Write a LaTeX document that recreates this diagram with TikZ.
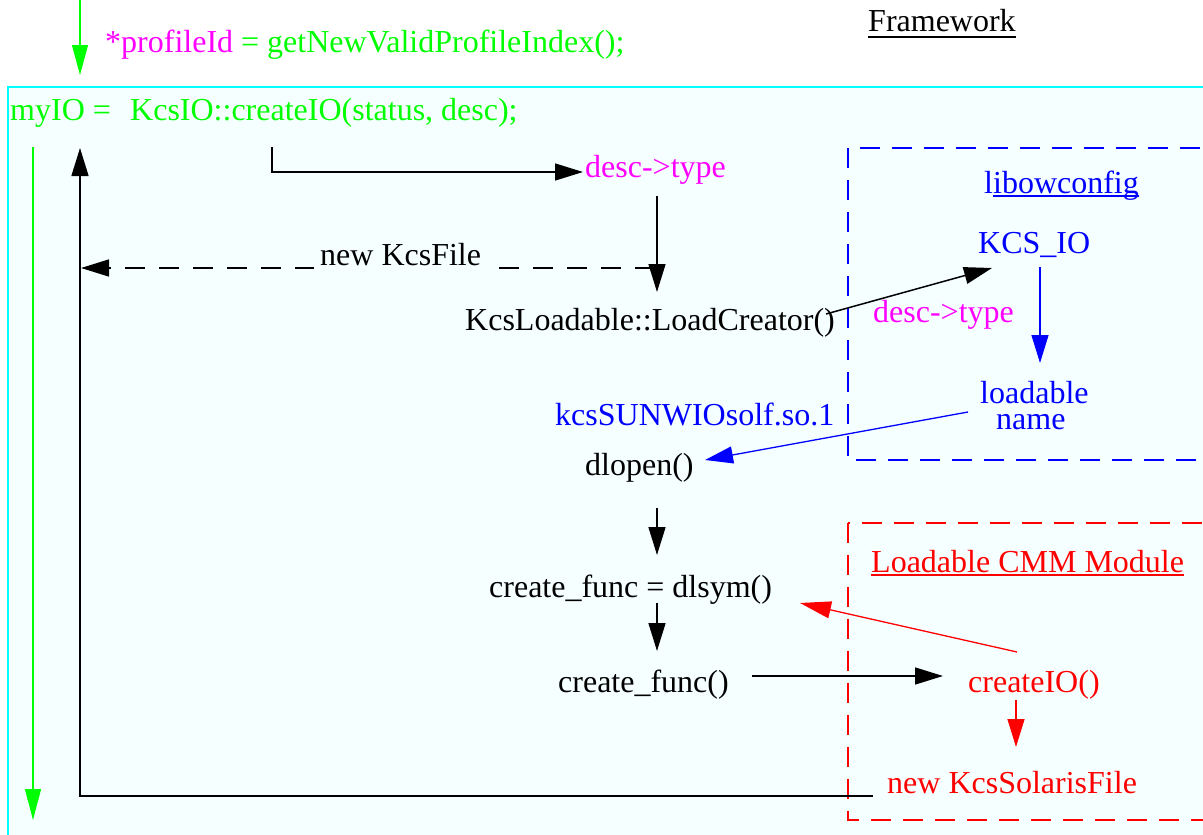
\documentclass[tikz,border=0pt]{standalone}
\usepackage{fontspec}
\setmainfont{Liberation Serif}
\usetikzlibrary{arrows.meta}
\definecolor{pgreen}{RGB}{0,255,0}
\definecolor{pmag}{RGB}{255,0,255}
\definecolor{pblue}{RGB}{0,0,255}
\definecolor{pred}{RGB}{255,0,0}
\definecolor{pcyan}{RGB}{0,255,255}
\definecolor{paper}{RGB}{246,255,255}
\begin{document}
\begin{tikzpicture}[x=1pt,y=-1pt,
  every node/.style={inner sep=0pt, anchor=base west, font=\fontsize{32}{38}\selectfont},
  flow/.style={line width=1.5pt, -{Triangle[length=28pt,width=17pt]}},
  boxdash/.style={line width=1.3pt, dash pattern=on 20pt off 12pt},
  uline/.style={line width=1.3pt}]

\useasboundingbox (0,0) rectangle (1203,835);
\clip (0,0) rectangle (1203,835);
\fill[white] (0,0) rectangle (1203,835);

% framework area
\draw[pcyan, fill=paper, line width=1.2pt] (8,87) rectangle (1230,860);

% library boxes
\draw[pblue, boxdash] (848,148) rectangle (1240,460);
\draw[pred, boxdash] (848,523) rectangle (1240,820);

% labels
\node (fw) at (868,31) {Framework};
\draw[uline] ([yshift=-6pt]fw.base west) -- ([yshift=-6pt]fw.base east);

\node[pgreen] (pid) at (105,52) {\textcolor{pmag}{*profileId} = getNewValidProfileIndex();};
\node[pgreen] (myio) at (10,120) {myIO =};
\node[pgreen] (cio) at (130,120) {KcsIO::createIO(status, desc);};

\node[pmag] (dt1) at (585,177) {desc->type};
\node (klc) at (465,330) {KcsLoadable::LoadCreator()};

\node[pblue] (lib) at (984,193) {libowconfig};
\draw[pblue, uline] ([xshift=8.9pt, yshift=-3pt]lib.base west) -- ([yshift=-3pt]lib.base east);
\node[pblue] (kio) at (978,253) {KCS\_IO};
\node[pmag] (dt2) at (873,322) {desc->type};
\node[pblue] (ld) at (980,403) {loadable};
\node[pblue] (nm) at (996,429) {name};

\node[pblue] (ksun) at (555,425) {kcsSUNWIOsolf.so.1};
\node (dlo) at (585,475) {dlopen()};

\node[pred] (lcm) at (871,572) {Loadable CMM Module};
\draw[pred, uline] ([yshift=-3pt]lcm.base west) -- ([yshift=-3pt]lcm.base east);

\node (dls) at (489,597) {create\_func = dlsym()};
\node (cf) at (558,692) {create\_func()};
\node[pred] (cio2) at (968,692) {createIO()};
\node[pred] (nks) at (887,793) {new KcsSolarisFile};

% connector end points
\coordinate (gtopA) at (80,0);
\coordinate (gtopB) at (80,75);
\coordinate (gleftA) at (33,147);
\coordinate (gleftB) at (33,820);
\coordinate (retA) at (873,796);
\coordinate (retB) at (80,796);
\coordinate (retC) at (80,148);
\coordinate (ciA) at (272,147);
\coordinate (ciB) at (272,172);
\coordinate (ciC) at (583,172);
\coordinate (dtA) at (657,196);
\coordinate (dtB) at (657,292);
\coordinate (nfA) at (655,268);
\coordinate (nfB) at (81,268);
\coordinate (lcA) at (826,314);
\coordinate (lcB) at (992,268);
\coordinate (kiA) at (1040,267);
\coordinate (kiB) at (1040,363);
\coordinate (lnA) at (968,412);
\coordinate (lnB) at (705,460);
\coordinate (doA) at (657,508);
\coordinate (doB) at (657,555);
\coordinate (dsA) at (657,603);
\coordinate (dsB) at (657,651);
\coordinate (crA) at (1017,652);
\coordinate (crB) at (800,603);
\coordinate (cfA) at (752,676);
\coordinate (cfB) at (943,676);
\coordinate (ciOA) at (1016,700);
\coordinate (ciOB) at (1016,747);

% connectors
\draw[flow, pgreen, line width=1.2pt, -{Triangle[length=30pt,width=16pt]}] (gtopA) -- (gtopB);
\draw[flow, pgreen, line width=1.2pt, -{Triangle[length=31pt,width=16pt]}] (gleftA) -- (gleftB);
\draw[flow] (retA) -- (retB) -- (retC);
\draw[flow] (ciA) -- (ciB) -- (ciC);
\draw[flow] (dtA) -- (dtB);
\draw[flow, dash pattern=on 20pt off 14pt] (nfA) -- (nfB);
\node[fill=paper, inner xsep=6pt, inner ysep=5pt] (nkf) at (314,265) {new KcsFile};
\draw[flow] (lcA) -- (lcB);
\draw[flow, pblue, line width=1.3pt] (kiA) -- (kiB);
\draw[flow, pblue, line width=1.3pt] (lnA) -- (lnB);
\draw[flow] (doA) -- (doB);
\draw[flow] (dsA) -- (dsB);
\draw[flow, pred, line width=1.3pt, -{Triangle[length=31pt,width=17pt]}] (crA) -- (crB);
\draw[flow] (cfA) -- (cfB);
\draw[flow, pred, line width=1.3pt] (ciOA) -- (ciOB);
\end{tikzpicture}
\end{document}
